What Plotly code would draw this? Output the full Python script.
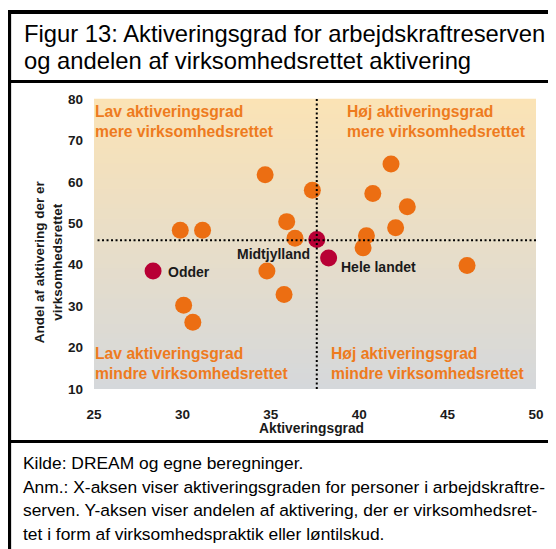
import plotly.graph_objects as go

# ---------------- data ----------------
kommune_x = [41.8, 34.68, 37.35, 40.77, 42.72, 35.9, 42.06, 29.88, 31.14, 40.41,
             36.37, 40.22, 46.1, 34.78, 35.75, 30.07, 30.59]
kommune_y = [64.3, 61.7, 58.0, 57.2, 54.0, 50.4, 48.9, 48.3, 48.3, 47.0,
             46.4, 44.1, 39.8, 38.5, 32.8, 30.2, 26.1]

highlight_names = ["Midtjylland", "Hele landet", "Odder"]
highlight_x = [37.6, 38.27, 28.34]
highlight_y = [46.1, 41.6, 38.5]

ref_x = 37.6   # Midtjylland aktiveringsgrad
ref_y = 45.9   # Midtjylland andel

x_ticks = [25, 30, 35, 40, 45, 50]
y_ticks = [10, 20, 30, 40, 50, 60, 70, 80]

title_lines = ["Figur 13: Aktiveringsgrad for arbejdskraftreserven",
               "og andelen af virksomhedsrettet aktivering"]
footer_lines = ["Kilde: DREAM og egne beregninger.",
                "Anm.: X-aksen viser aktiveringsgraden for personer i arbejdskraftre-",
                "serven. Y-aksen viser andelen af aktivering, der er virksomhedsret-",
                "tet i form af virksomhedspraktik eller løntilskud."]
quadrant_texts = ["Lav aktiveringsgrad<br>mere virksomhedsrettet",
                  "Høj aktiveringsgrad<br>mere virksomhedsrettet",
                  "Lav aktiveringsgrad<br>mindre virksomhedsrettet",
                  "Høj aktiveringsgrad<br>mindre virksomhedsrettet"]
x_title = "Aktiveringsgrad"
y_title = "Andel af aktivering der er<br>virksomhedsrettet"

# ---------------- layout geometry ----------------
OFF = 8                      # page body margin of the browser
W, H = 556, 549              # window size
L, R, T, B = 94, 538, 99, 389  # plot area in window pixels
ORANGE = "#ec6e12"
MAROON = "#b80035"
SANS = "Liberation Sans, Arial, sans-serif"


def px(x):
    return (x - L) / (R - L)


def py(y):
    return (B - y) / (B - T)


fig = go.Figure()

fig.add_trace(go.Scatter(
    x=kommune_x, y=kommune_y, mode="markers",
    marker=dict(size=17, color=ORANGE, line=dict(width=0)),
    hoverinfo="skip", showlegend=False))

fig.add_trace(go.Scatter(
    x=highlight_x, y=highlight_y, mode="markers",
    marker=dict(size=17, color=MAROON, line=dict(width=0)),
    text=highlight_names, hoverinfo="text", showlegend=False))

shapes = []
# gradient background
top_c = (251, 227, 181)
bot_c = (213, 216, 219)
n = 58
for i in range(n):
    t = (i + 0.5) / n
    c = tuple(round(top_c[k] + (bot_c[k] - top_c[k]) * t) for k in range(3))
    shapes.append(dict(type="rect", xref="x domain", yref="y domain",
                       x0=0, x1=1, y0=1 - (i + 1) / n, y1=1 - i / n + 0.001,
                       fillcolor="rgb(%d,%d,%d)" % c, line=dict(width=0),
                       layer="below"))
# reference lines
shapes.append(dict(type="line", xref="x", yref="y domain", x0=ref_x, x1=ref_x,
                   y0=0, y1=1, line=dict(color="black", width=2, dash="2px,2.5px"),
                   layer="above"))
shapes.append(dict(type="line", xref="x domain", yref="y", x0=0.008, x1=1,
                   y0=ref_y, y1=ref_y, line=dict(color="black", width=2, dash="2px,2.5px"),
                   layer="above"))
# frame
shapes.append(dict(type="line", xref="paper", yref="paper", x0=px(8.5), x1=px(8.5),
                   y0=py(10), y1=py(H + 2), line=dict(color="black", width=4.5)))
shapes.append(dict(type="line", xref="paper", yref="paper", x0=px(6.5), x1=px(W + 2),
                   y0=py(12), y1=py(12), line=dict(color="black", width=4)))
shapes.append(dict(type="line", xref="paper", yref="paper", x0=px(6.5), x1=px(W + 2),
                   y0=py(81.5), y1=py(81.5), line=dict(color="black", width=3)))
shapes.append(dict(type="line", xref="paper", yref="paper", x0=px(6.5), x1=px(W + 2),
                   y0=py(441.5), y1=py(441.5), line=dict(color="black", width=3)))

ann = []
# title
for line, yc in zip(title_lines, [33, 60]):
    ann.append(dict(text=line, xref="paper", yref="paper", x=px(22), y=py(yc),
                    xanchor="left", yanchor="middle", showarrow=False,
                    font=dict(family=SANS, size=23.8, color="black")))
# footer
for line, yc in zip(footer_lines, [463, 486.5, 510, 533.5]):
    ann.append(dict(text=line, xref="paper", yref="paper", x=px(20.5), y=py(yc),
                    xanchor="left", yanchor="middle", showarrow=False,
                    font=dict(family=SANS, size=17.4, color="black")))
# quadrant labels
qpos = [(94, 121), (347, 121), (94, 363.5), (331.5, 363.5)]
for txt, (qx, qy) in zip(quadrant_texts, qpos):
    ann.append(dict(text=txt, xref="paper", yref="paper", x=px(qx - 1), y=py(qy),
                    xanchor="left", yanchor="middle", align="left", showarrow=False,
                    font=dict(family=SANS, size=15.7, color="#ee7b1e", weight="bold")))
# point labels
label_cfg = {"Midtjylland": ("right", -5, -15),
             "Hele landet": ("left", 10, -9),
             "Odder": ("left", 13, -1)}
for nm, hx, hy in zip(highlight_names, highlight_x, highlight_y):
    anchor, dx, dy = label_cfg[nm]
    ann.append(dict(text=nm, x=hx, y=hy, xref="x", yref="y",
                    xanchor=anchor, yanchor="middle", xshift=dx, yshift=dy,
                    showarrow=False,
                    font=dict(family=SANS, size=14, color="#1a1a1a", weight="bold")))
# axis titles
ann.append(dict(text=x_title, xref="paper", yref="paper", x=px(312), y=py(428),
                xanchor="center", yanchor="middle", showarrow=False,
                font=dict(family=SANS, size=13.8, color="#1a1a1a", weight="bold")))
ann.append(dict(text=y_title, xref="paper", yref="paper", x=px(48), y=py(262),
                xanchor="center", yanchor="middle", showarrow=False, textangle=-90,
                font=dict(family=SANS, size=13.5, color="#1a1a1a", weight="bold")))

fig.update_layout(
    width=W - OFF, height=H - OFF,
    margin=dict(l=L - OFF, r=W - R, t=T - OFF, b=H - B, pad=0),
    paper_bgcolor="white", plot_bgcolor="rgba(0,0,0,0)",
    shapes=shapes, annotations=ann, showlegend=False,
    xaxis=dict(range=[25, 50], tickvals=x_ticks, showgrid=False, zeroline=False,
               showline=False, ticks="", ticklabelstandoff=15,
               tickfont=dict(family=SANS, size=13.5, color="#1a1a1a", weight="bold")),
    yaxis=dict(range=[10, 80], tickvals=y_ticks, showgrid=False, zeroline=False,
               showline=False, ticks="", ticklabelstandoff=10,
               tickfont=dict(family=SANS, size=13.5, color="#1a1a1a", weight="bold")),
)

fig.write_html("out.html")
